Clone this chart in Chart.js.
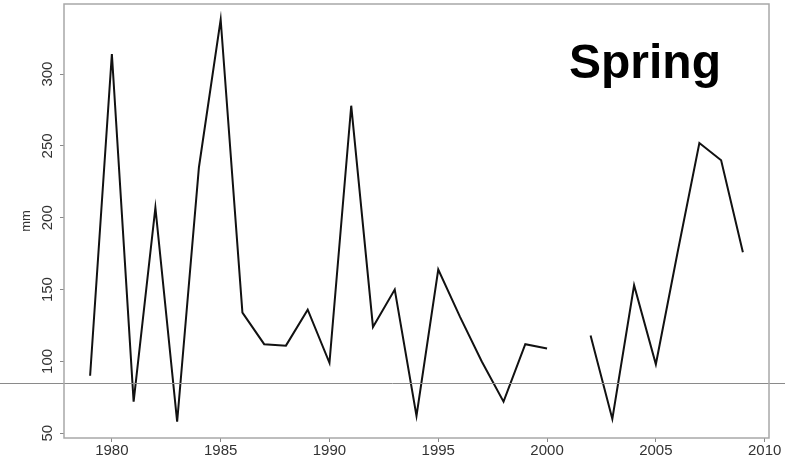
<!DOCTYPE html>
<html>
<head>
<meta charset="utf-8">
<script src="https://cdn.jsdelivr.net/npm/chart.js@4.4.1/dist/chart.umd.min.js"></script>
<style>
  html, body { margin: 0; padding: 0; background: #fff; }
  #wrap { width: 785px; height: 465px; position: relative; }
</style>
</head>
<body>
<div id="wrap"><canvas id="springchart" width="785" height="465"></canvas></div>
<script>
// Spring rainfall series, one value per year (null = no data)
const years = [1979, 1980, 1981, 1982, 1983, 1984, 1985, 1986, 1987, 1988,
               1989, 1990, 1991, 1992, 1993, 1994, 1995, 1996, 1997, 1998,
               1999, 2000, 2001, 2002, 2003, 2004, 2005, 2006, 2007, 2008, 2009];
const rainfall = [90, 314, 72, 207, 58, 235, 338, 134, 112, 111,
                  136, 99, 278, 124, 150, 62, 164, 131, 100, 72,
                  112, 109, null, 118, 60, 153, 98, 176, 252, 240, 176];
const xTicks = [1980, 1985, 1990, 1995, 2000, 2005, 2010];
const yTicks = [50, 100, 150, 200, 250, 300];
const referenceLevel = 85;
const panelLabel = 'Spring';
const unitLabel = 'mm';

const axisFont = { family: 'Liberation Sans, Arial, sans-serif', size: 15 };

// outline box round the plot area
const boxPlugin = {
    id: 'box',
    afterDraw(chart) {
        const { ctx, chartArea: a } = chart;
        ctx.save();
        ctx.strokeStyle = '#a8a8a8';
        ctx.lineWidth = 1.5;
        ctx.strokeRect(a.left, a.top, a.right - a.left, a.bottom - a.top);
        ctx.restore();
    }
};

// thin grey reference line, runs across the whole picture
const refLinePlugin = {
    id: 'refLine',
    afterDatasetsDraw(chart) {
        const { ctx } = chart;
        const y = Math.round(chart.scales.y.getPixelForValue(referenceLevel)) + 0.5;
        ctx.save();
        ctx.strokeStyle = '#8a8a8a';
        ctx.lineWidth = 1;
        ctx.beginPath();
        ctx.moveTo(0, y);
        ctx.lineTo(chart.width, y);
        ctx.stroke();
        ctx.restore();
    }
};

// bold panel name in the top right corner
const panelPlugin = {
    id: 'panel',
    afterDraw(chart) {
        const { ctx, chartArea: a } = chart;
        ctx.save();
        ctx.fillStyle = '#000';
        ctx.font = 'bold 48px Liberation Sans, Arial, sans-serif';
        ctx.textAlign = 'left';
        ctx.textBaseline = 'alphabetic';
        ctx.fillText(panelLabel, a.right - 200, a.top + 74);
        ctx.restore();
    }
};

const ctx = document.getElementById('springchart').getContext('2d');
const chart = new Chart(ctx, {
    type: 'line',
    data: {
        datasets: [{
            label: panelLabel,
            data: years.map((yr, i) => ({ x: yr, y: rainfall[i] })),
            borderColor: '#111',
            borderWidth: 2,
            pointRadius: 0,
            tension: 0,
            spanGaps: false,
            fill: false
        }]
    },
    options: {
        responsive: false,
        animation: false,
        layout: { padding: { left: 0, top: 4, right: 16, bottom: 0 } },
        plugins: {
            legend: { display: false },
            tooltip: { enabled: false }
        },
        scales: {
            x: {
                type: 'linear',
                min: 1977.8,
                max: 2010.2,
                afterBuildTicks: (scale) => { scale.ticks = xTicks.map(v => ({ value: v })); },
                afterFit: (scale) => {
                    scale.height = 27;
                    scale.paddingLeft = 0;
                    scale.paddingRight = 0;
                },
                border: { display: false },
                grid: { drawOnChartArea: false, drawTicks: true, tickLength: 4, color: '#888', lineWidth: 1 },
                ticks: { color: '#333', font: axisFont, padding: 0, maxRotation: 0, autoSkip: false, callback: v => String(v) }
            },
            y: {
                type: 'linear',
                min: 46.7,
                max: 348.8,
                afterBuildTicks: (scale) => { scale.ticks = yTicks.map(v => ({ value: v })); },
                afterFit: (scale) => {
                    scale.width = 64;
                    scale.paddingTop = 0;
                    scale.paddingBottom = 0;
                },
                border: { display: false },
                grid: { drawOnChartArea: false, drawTicks: true, tickLength: 4, color: '#888', lineWidth: 1 },
                ticks: { color: '#333', font: axisFont, padding: 0, minRotation: 90, maxRotation: 90, crossAlign: 'center', autoSkip: false },
                title: { display: true, text: unitLabel, color: '#333', font: { family: 'Liberation Sans, Arial, sans-serif', size: 13 }, padding: { top: 19, bottom: 0 } }
            }
        }
    },
    plugins: [refLinePlugin, boxPlugin, panelPlugin]
});
</script>
</body>
</html>
